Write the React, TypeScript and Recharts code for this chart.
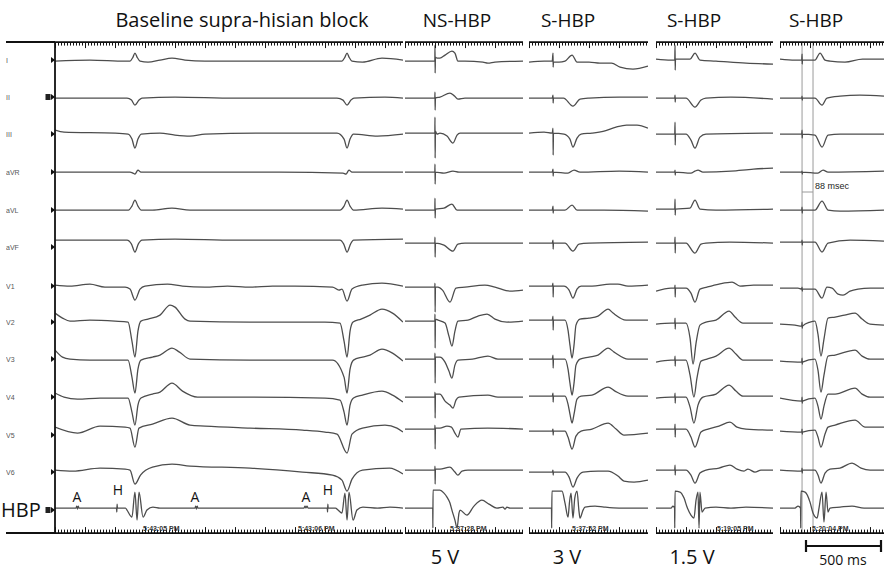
import React from "react";
import { LineChart, Line, XAxis, YAxis, ReferenceLine } from "recharts";

type Pt = [number, number];

// time in ms from panel start, amplitude in trace units (up = positive)
const LEADS = ["I", "II", "III", "aVR", "aVL", "aVF", "V1", "V2", "V3", "V4", "V5", "V6", "HBP"];
const TITLES = ["Baseline supra-hisian block", "NS-HBP", "S-HBP", "S-HBP", "S-HBP"];
const OUTPUTS = ["5 V", "3 V", "1.5 V"];
const CLOCKS = ["5:43:05 PM", "5:43:06 PM", "5:37:28 PM", "5:37:52 PM", "5:19:05 PM", "5:20:04 PM"];
const PANEL_MS = [2320, 787, 793, 780, 693];
const CURSORS_MS = [147, 220];
const CURSOR_LABEL = "88 msec";
const SCALE_LABEL = "500 ms";

// baseline supra-hisian block
const I_BASE: Pt[] = [[0,0],[233,1],[467,0],[500,0],[520,4],[533,8],[547,4],[567,0],[620,-1],[700,1],[780,3],[867,1],[1000,0],[1300,0],[1600,0],[1880,0],[1913,0],[1933,4],[1947,8],[1960,4],[1980,0],[2050,-1],[2180,3],[2320,1]];
const II_BASE: Pt[] = [[0,0],[300,0],[480,0],[510,-2],[533,-7],[560,-2],[580,0],[800,1],[1200,0],[1880,0],[1920,-2],[1947,-7],[1973,-2],[1993,0],[2200,1],[2320,0]];
const III_BASE: Pt[] = [[0,3],[60,1],[400,0],[487,-1],[513,-6],[533,-15],[553,-6],[575,-1],[700,0],[800,-2],[900,-3],[1000,-1],[1400,0],[1880,0],[1927,-6],[1947,-15],[1967,-6],[1990,-1],[2150,-3],[2320,-1]];
const AVR_BASE: Pt[] = [[0,0],[500,0],[520,-1],[533,-2],[553,2],[573,0],[1000,0],[1500,0],[1920,-1],[1940,-2],[1960,2],[1980,0],[2320,0]];
const AVL_BASE: Pt[] = [[0,0],[300,0],[490,0],[513,4],[533,10],[553,4],[575,0],[650,0],[780,2],[900,0],[1300,0],[1900,0],[1927,4],[1947,10],[1967,4],[1990,0],[2180,2],[2320,1]];
const AVF_BASE: Pt[] = [[0,3],[480,3],[510,-1],[533,-9],[555,-1],[580,3],[800,4],[1200,3],[1900,3],[1925,-1],[1947,-9],[1970,-1],[1990,3],[2320,4]];
const V1_BASE: Pt[] = [[0,2],[100,1],[233,3],[333,0],[467,0],[500,-2],[533,-13],[567,-2],[600,1],[750,3],[850,1],[1000,0],[1150,1],[1300,0],[1450,1],[1600,1],[1850,0],[1893,-3],[1913,-2],[1947,-14],[1980,-2],[2050,2],[2180,4],[2320,1]];
const V2_BASE: Pt[] = [[0,8],[50,3],[100,0],[233,1],[400,0],[487,-1],[513,-20],[533,-36],[553,-10],[573,0],[620,2],[700,6],[767,16],[800,14],[867,2],[900,0],[1300,-1],[1800,-1],[1900,-2],[1927,-20],[1947,-36],[1967,-10],[1987,-1],[2040,2],[2100,6],[2180,12],[2250,8],[2320,-1]];
const V3_BASE: Pt[] = [[0,9],[50,2],[100,0],[233,-1],[487,-1],[513,-18],[533,-34],[553,-10],[573,-1],[650,2],[700,4],[780,11],[830,7],[900,0],[1300,-1],[1850,-1],[1927,-18],[1947,-34],[1967,-10],[1990,-1],[2050,2],[2100,4],[2180,10],[2250,6],[2320,-2]];
const V4_BASE: Pt[] = [[0,4],[60,0],[150,-2],[300,-1],[487,-1],[513,-15],[533,-28],[553,-8],[573,-1],[650,3],[700,5],[780,14],[850,6],[950,0],[1300,0],[1800,-1],[1900,-3],[1927,-15],[1947,-28],[1967,-8],[1990,-1],[2050,2],[2180,6],[2250,2],[2320,-5]];
const V5_BASE: Pt[] = [[0,3],[150,-3],[300,4],[467,3],[500,2],[533,-17],[560,2],[650,6],[780,12],[900,5],[1000,4],[1300,2],[1650,0],[1800,-2],[1880,-4],[1947,-23],[1980,-4],[2050,2],[2200,5],[2280,2],[2320,-2]];
const V6_BASE: Pt[] = [[0,1],[120,0],[300,3],[467,2],[500,1],[533,-13],[570,-4],[650,4],[780,7],[900,5],[1300,3],[1650,-1],[1850,-4],[1913,-9],[1947,-20],[1980,-8],[2050,1],[2230,3],[2320,-3]];
const HBP_BASE: Pt[] = [[0,0],[100,0],[140,0],[145,2],[150,-1],[155,2],[160,0],[300,0],[410,0],[412,-4],[414,4],[416,0],[470,0],[480,-2],[513,-9],[533,16],[547,-12],[560,16],[587,-9],[613,-2],[653,1],[700,0],[933,0],[938,2],[943,-1],[948,2],[953,0],[1200,0],[1500,0],[1660,0],[1667,2],[1673,0],[1680,2],[1687,0],[1815,0],[1817,-4],[1819,4],[1821,0],[1870,0],[1887,-2],[1913,-5],[1933,15],[1947,-12],[1960,16],[1987,-12],[2013,-2],[2053,1],[2150,0],[2233,1],[2320,0]];

// NS-HBP 5 V
const I_NS: Pt[] = [[0,0],[190,0],[199,0],[200,16],[201,-12],[203,4],[213,3],[233,3],[267,6],[313,10],[333,8],[353,0],[400,0],[520,-1],[553,-2],[600,-1],[787,0]];
const II_NS: Pt[] = [[0,0],[199,0],[200,6],[201,-12],[203,0],[233,1],[300,5],[330,2],[353,-1],[400,0],[787,0]];
const III_NS: Pt[] = [[0,0],[199,0],[200,16],[201,-25],[203,2],[213,-1],[233,0],[280,-3],[320,-10],[347,-2],[367,0],[787,0]];
const AVR_NS: Pt[] = [[0,0],[199,0],[200,8],[201,-12],[203,0],[260,-1],[320,1],[360,0],[787,0]];
const AVL_NS: Pt[] = [[0,0],[199,0],[200,12],[201,-8],[203,1],[260,2],[313,6],[347,0],[400,0],[787,0]];
const AVF_NS: Pt[] = [[0,0],[199,0],[200,6],[201,-14],[203,0],[260,-2],[320,-8],[353,-1],[400,0],[787,0]];
const V1_NS: Pt[] = [[0,0],[199,0],[200,4],[201,-25],[203,0],[220,0],[250,-3],[300,-15],[340,-1],[400,0],[533,2],[600,0],[700,-4],[787,-3]];
const V2_NS: Pt[] = [[0,0],[199,0],[200,7],[201,-27],[203,2],[220,1],[267,-2],[293,-15],[313,-25],[333,-10],[353,0],[420,1],[487,5],[547,7],[600,2],[680,-1],[787,0]];
const V3_NS: Pt[] = [[0,0],[199,0],[200,6],[201,-24],[203,2],[233,2],[267,-3],[293,-12],[313,-19],[333,-6],[353,-1],[450,0],[553,3],[620,0],[787,0]];
const V4_NS: Pt[] = [[0,0],[199,0],[200,5],[201,-21],[203,3],[233,3],[267,-4],[300,-8],[320,-11],[340,-3],[360,0],[553,2],[620,0],[787,0]];
const V5_NS: Pt[] = [[0,1],[199,1],[200,5],[201,-19],[203,2],[233,2],[280,4],[310,3],[333,-3],[353,-7],[373,1],[553,2],[787,1]];
const V6_NS: Pt[] = [[0,1],[199,1],[200,5],[201,-13],[203,2],[233,2],[300,4],[333,-1],[353,-4],[380,0],[420,1],[600,1],[787,1]];
const HBP_NS: Pt[] = [[0,0],[185,0],[186,-20],[187,18],[233,18],[260,15],[280,11],[300,5],[313,-2],[333,-12],[347,-20],[360,-5],[367,-2],[413,-7],[460,2],[513,8],[560,4],[613,0],[653,1],[667,-1],[680,1],[700,0],[787,0]];

// S-HBP 3 V
const I_S3: Pt[] = [[0,-1],[100,0],[155,0],[160,8],[161,-6],[163,-1],[200,-1],[240,0],[287,6],[320,-1],[400,-1],[473,-2],[550,-2],[607,-6],[693,-8],[793,-5]];
const II_S3: Pt[] = [[0,0],[155,0],[160,3],[161,-5],[163,0],[230,0],[293,-8],[340,-1],[400,0],[600,1],[793,1]];
const III_S3: Pt[] = [[0,0],[100,1],[155,0],[160,5],[161,-22],[163,0],[233,-1],[273,-6],[293,-14],[320,-5],[347,-1],[420,0],[500,2],[580,6],[650,8],[720,8],[793,5]];
const AVR_S3: Pt[] = [[0,0],[155,0],[160,3],[161,-4],[163,0],[260,-1],[300,2],[340,0],[600,1],[793,0]];
const AVL_S3: Pt[] = [[0,0],[155,0],[160,4],[161,-3],[163,0],[240,0],[287,5],[320,0],[500,0],[793,-1]];
const AVF_S3: Pt[] = [[0,0],[155,0],[160,3],[161,-6],[163,0],[240,0],[293,-8],[333,-1],[400,0],[793,1]];
const V1_S3: Pt[] = [[0,1],[155,1],[160,4],[161,-10],[163,1],[233,1],[267,-3],[293,-11],[320,-2],[347,1],[420,1],[540,3],[593,3],[660,1],[793,2]];
const V2_S3: Pt[] = [[0,1],[155,1],[160,5],[161,-9],[163,1],[240,1],[260,-9],[273,-24],[287,-37],[300,-24],[313,-4],[340,2],[400,3],[460,5],[527,12],[560,8],[647,1],[793,1]];
const V3_S3: Pt[] = [[0,0],[155,0],[160,4],[161,-9],[163,0],[240,0],[260,-10],[273,-24],[287,-36],[300,-24],[313,-6],[340,0],[400,2],[460,4],[527,11],[567,7],[660,0],[793,0]];
const V4_S3: Pt[] = [[0,1],[155,1],[160,4],[161,-5],[163,1],[240,1],[260,-7],[273,-17],[287,-26],[300,-17],[320,-2],[347,1],[420,2],[527,10],[573,6],[660,1],[793,1]];
const V5_S3: Pt[] = [[0,-1],[155,-1],[160,1],[161,-5],[163,-1],[240,-1],[260,-7],[287,-19],[313,-6],[347,-1],[420,1],[527,7],[580,1],[633,-5],[793,-3]];
const V6_S3: Pt[] = [[0,-1],[155,-1],[160,1],[161,-4],[163,-1],[240,-1],[267,-6],[293,-16],[320,-7],[360,-1],[460,0],[527,0],[593,-5],[633,-10],[700,-11],[793,-9]];
const HBP_S3: Pt[] = [[0,0],[150,0],[151,-20],[153,17],[220,17],[240,5],[260,-9],[270,6],[280,15],[293,-10],[305,10],[320,17],[333,-3],[340,-10],[360,-2],[373,1],[440,2],[500,1],[600,0],[793,0]];

// S-HBP 1.5 V
const I_S15: Pt[] = [[0,2],[100,1],[125,1],[127,16],[128,-9],[130,2],[160,2],[227,2],[260,8],[293,1],[400,0],[600,-2],[780,-3]];
const II_S15: Pt[] = [[0,0],[125,0],[127,3],[128,-4],[130,0],[200,0],[260,-9],[300,-2],[333,0],[500,1],[780,-1]];
const III_S15: Pt[] = [[0,-1],[125,-1],[127,11],[128,-12],[130,-1],[200,-1],[233,-7],[260,-15],[293,-4],[333,-1],[780,0]];
const AVR_S15: Pt[] = [[0,0],[125,0],[127,2],[128,-3],[130,0],[233,-1],[260,1],[280,2],[313,0],[500,1],[650,3],[780,4]];
const AVL_S15: Pt[] = [[0,1],[125,1],[127,11],[128,-5],[130,1],[227,2],[260,10],[293,1],[400,0],[780,1]];
const AVF_S15: Pt[] = [[0,0],[125,0],[127,6],[128,-10],[130,0],[200,0],[260,-10],[300,-1],[333,0],[493,1],[780,0]];
const V1_S15: Pt[] = [[0,-4],[100,-1],[125,-1],[127,2],[128,-10],[130,-1],[200,-1],[233,-6],[260,-15],[293,-2],[340,0],[420,3],[507,5],[560,1],[650,2],[780,2]];
const V2_S15: Pt[] = [[0,-3],[100,-2],[125,-2],[127,3],[128,-8],[130,-2],[200,-2],[227,-17],[247,-43],[267,-22],[293,-4],[333,-1],[400,1],[487,10],[527,4],[580,-2],[780,-2]];
const V3_S15: Pt[] = [[0,-3],[100,-1],[125,-1],[127,3],[128,-7],[130,-1],[200,-1],[227,-16],[253,-38],[273,-19],[300,-2],[340,0],[400,3],[487,11],[533,5],[580,-1],[780,-1]];
const V4_S15: Pt[] = [[0,-1],[100,0],[125,0],[127,4],[128,-6],[130,0],[200,0],[227,-10],[253,-26],[280,-8],[313,0],[400,3],[487,12],[533,6],[580,1],[780,1]];
const V5_S15: Pt[] = [[0,1],[100,1],[125,1],[127,6],[128,-7],[130,1],[200,1],[233,-7],[260,-17],[300,-2],[347,1],[420,4],[493,8],[540,3],[600,1],[780,0]];
const V6_S15: Pt[] = [[0,1],[125,1],[127,6],[128,-4],[130,1],[200,1],[233,-4],[260,-12],[293,-2],[333,1],[420,3],[493,6],[540,2],[587,0],[613,2],[660,-1],[700,1],[780,1]];
const HBP_S15: Pt[] = [[0,0],[100,0],[113,2],[124,0],[125,-20],[127,17],[160,16],[187,10],[207,1],[233,-7],[253,-10],[267,8],[280,16],[287,-20],[293,16],[307,-4],[327,0],[400,1],[500,0],[600,1],[780,0]];

// S-HBP, second 1.5 V strip with cursors
const I_S15B: Pt[] = [[0,2],[100,1],[145,1],[147,7],[148,-3],[150,1],[233,1],[267,8],[300,1],[333,0],[433,-1],[550,2],[693,2]];
const II_S15B: Pt[] = [[0,0],[145,0],[147,2],[148,-2],[150,0],[233,0],[280,-7],[313,0],[400,2],[533,3],[693,2]];
const III_S15B: Pt[] = [[0,-1],[145,-1],[147,3],[148,-5],[150,-1],[233,-2],[280,-14],[320,-2],[400,-1],[693,-1]];
const AVR_S15B: Pt[] = [[0,0],[145,0],[147,1],[148,-2],[150,0],[253,-1],[287,2],[320,0],[693,1]];
const AVL_S15B: Pt[] = [[0,0],[145,0],[147,3],[148,-3],[150,0],[233,0],[280,9],[320,0],[400,-1],[693,0]];
const AVF_S15B: Pt[] = [[0,1],[145,1],[147,3],[148,-2],[150,1],[233,1],[280,-9],[320,0],[467,3],[693,2]];
const V1_S15B: Pt[] = [[0,-1],[120,-1],[145,-2],[147,0],[148,-4],[150,-2],[233,-2],[280,-11],[313,0],[347,-1],[387,-7],[420,-8],[467,-4],[520,-2],[600,-1],[693,-1]];
const V2_S15B: Pt[] = [[0,-3],[100,-4],[145,-5],[147,-1],[148,-7],[150,-5],[200,-1],[233,0],[253,-13],[273,-35],[293,-18],[320,3],[367,4],[430,6],[500,8],[547,2],[600,-3],[693,-4]];
const V3_S15B: Pt[] = [[0,-2],[145,-3],[147,1],[148,-5],[150,-3],[233,0],[253,-11],[273,-33],[293,-16],[320,3],[367,4],[500,9],[547,3],[600,0],[693,0]];
const V4_S15B: Pt[] = [[0,-1],[145,-4],[147,0],[148,-6],[150,-4],[233,-1],[253,-9],[273,-22],[293,-9],[320,3],[367,3],[500,9],[547,3],[600,0],[693,0]];
const V5_S15B: Pt[] = [[0,-1],[145,-2],[147,1],[148,-4],[150,-2],[233,0],[253,-7],[273,-17],[300,-4],[320,3],[367,5],[500,10],[567,3],[693,3]];
const V6_S15B: Pt[] = [[0,1],[145,0],[147,3],[148,-2],[150,1],[233,1],[253,-4],[273,-12],[300,-2],[333,2],[400,3],[480,8],[540,3],[600,1],[693,1]];
const HBP_S15B: Pt[] = [[0,0],[100,0],[120,2],[137,0],[138,-20],[140,17],[167,16],[200,6],[220,-5],[247,-10],[260,0],[280,16],[293,-14],[307,16],[320,-4],[333,0],[400,1],[480,2],[560,0],[693,0]];

const TRACES: Pt[][][] = [
  [I_BASE, II_BASE, III_BASE, AVR_BASE, AVL_BASE, AVF_BASE, V1_BASE, V2_BASE, V3_BASE, V4_BASE, V5_BASE, V6_BASE, HBP_BASE],
  [I_NS, II_NS, III_NS, AVR_NS, AVL_NS, AVF_NS, V1_NS, V2_NS, V3_NS, V4_NS, V5_NS, V6_NS, HBP_NS],
  [I_S3, II_S3, III_S3, AVR_S3, AVL_S3, AVF_S3, V1_S3, V2_S3, V3_S3, V4_S3, V5_S3, V6_S3, HBP_S3],
  [I_S15, II_S15, III_S15, AVR_S15, AVL_S15, AVF_S15, V1_S15, V2_S15, V3_S15, V4_S15, V5_S15, V6_S15, HBP_S15],
  [I_S15B, II_S15B, III_S15B, AVR_S15B, AVL_S15B, AVF_S15B, V1_S15B, V2_S15B, V3_S15B, V4_S15B, V5_S15B, V6_S15B, HBP_S15B],
];

// layout (page pixels)
const TOP = 42;
const BOTTOM = 533;
const PANEL_X = [55, 405, 529, 656, 780];
const PANEL_W = [348, 118, 119, 117, 104];
const ROW_Y = [61, 98, 133, 172, 210, 243, 287, 321, 359, 397, 430, 471, 508];
const LABEL_Y = [60, 97, 134, 172, 210, 247, 286, 322, 359, 397, 435, 472, 510];
const TITLE_X = [242, 457, 568, 694, 816];
const OUTPUT_X = [445, 567, 692];
const CLOCK_X = [143, 298, 450, 572, 717, 812];
const PHASES = [0, 20, 40, 60, 80, 100, 120, 140, 160, 180]; // ruler ticks every 20 ms, long one every 200 ms

const FONT = "'Open Sans', 'Noto Sans', sans-serif";
const SMALL = "'Liberation Sans', Arial, sans-serif";
const INK = "#4d4d4d";
const AXH = 2;
const THIN = 0.01;

function Strip({ idx }: { idx: number }) {
  const ms = PANEL_MS[idx];
  const w = PANEL_W[idx];
  const h = BOTTOM - TOP + 2 * AXH + 2 * THIN * (PHASES.length - 1);
  const y0 = AXH + THIN * (PHASES.length - 1);
  const y1 = h - y0;
  const tickFor = (side: "top" | "bottom", len: number) => (p: any) => {
    const x = Math.round(p.x) + 0.5;
    return side === "top"
      ? <line x1={x} x2={x} y1={y0} y2={y0 + len} stroke="#111" strokeWidth={1} />
      : <line x1={x} x2={x} y1={y1} y2={y1 - len} stroke="#111" strokeWidth={1} />;
  };
  const axes: React.ReactNode[] = [];
  (["top", "bottom"] as const).forEach((side) => {
    PHASES.forEach((ph, k) => {
      const ticks: number[] = [];
      for (let t = ph; t <= ms; t += 200) ticks.push(t);
      axes.push(
        <XAxis key={`${side}${k}`} xAxisId={`${side}${k}`} orientation={side} type="number" dataKey="t"
          domain={[0, ms]} ticks={ticks} interval={0} minTickGap={0} height={k === 0 ? AXH : THIN}
          allowDataOverflow tickLine={false} tick={tickFor(side, k === 0 ? 6 : 3.5)}
          axisLine={k === 0 ? { stroke: "#111", strokeWidth: 1.8 } : false} />
      );
    });
  });
  return (
    <div style={{ position: "absolute", left: PANEL_X[idx], top: TOP - y0 }}>
      <LineChart width={w} height={h} margin={{ top: 0, right: 0, bottom: 0, left: 0 }}>
        {axes}
        {LEADS.map((lead, i) => (
          <YAxis key={lead} yAxisId={lead} hide type="number" allowDataOverflow
            domain={[ROW_Y[i] - BOTTOM, ROW_Y[i] - TOP]} />
        ))}
        {idx === 4 &&
          CURSORS_MS.map((c) => (
            <ReferenceLine key={c} x={c} xAxisId="top0" yAxisId="I" stroke="#9a9a9a" strokeWidth={1} />
          ))}
        {LEADS.map((lead, i) => (
          <Line key={lead} xAxisId="top0" yAxisId={lead} type="monotone"
            data={TRACES[idx][i].map(([t, a]) => ({ t, a }))} dataKey="a"
            stroke={INK} strokeWidth={1.3} dot={false} activeDot={false} isAnimationActive={false} />
        ))}
      </LineChart>
    </div>
  );
}

export default function App() {
  return (
    <div style={{ position: "absolute", left: 0, top: 0, width: 884, height: 570, background: "#fff", overflow: "hidden" }}>
      {PANEL_MS.map((_, i) => <Strip key={i} idx={i} />)}
      <svg width={884} height={570} style={{ position: "absolute", left: 0, top: 0, pointerEvents: "none" }}>
        {TITLES.map((t, i) => (
          <text key={i} x={TITLE_X[i]} y={27} textAnchor="middle" fontFamily={FONT} fontSize={i === 0 ? 20 : 19} fill="#111">{t}</text>
        ))}
        <line x1={6} x2={55} y1={TOP} y2={TOP} stroke="#111" strokeWidth={1.8} />
        <line x1={6} x2={55} y1={BOTTOM} y2={BOTTOM} stroke="#111" strokeWidth={1.8} />
        <line x1={55} x2={55} y1={TOP} y2={BOTTOM} stroke="#111" strokeWidth={1.8} />
        <g opacity={0.99}>
          {LEADS.slice(0, 12).map((l, i) => (
            <text key={l} x={6} y={LABEL_Y[i] + 2.5} fontFamily={SMALL} fontSize={7} fill="#555">{l}</text>
          ))}
          {CLOCKS.map((c, i) => (
            <text key={i} x={CLOCK_X[i]} y={531} fontFamily={SMALL} fontSize={7} fontWeight="bold" fill="#333">{c}</text>
          ))}
          <text x={815} y={189} fontFamily={SMALL} fontSize={9} fill="#222">{CURSOR_LABEL}</text>
        </g>
        {LABEL_Y.map((y, i) => (
          <path key={i} d={`M51,${y - 3} L55,${y} L51,${y + 3} Z`} fill="#111" />
        ))}
        <rect x={45.5} y={LABEL_Y[1] - 3} width={5} height={6} fill="#222" />
        <rect x={45.5} y={LABEL_Y[12] - 3} width={5} height={6} fill="#222" />
        <text x={1} y={517} fontFamily={FONT} fontSize={20} fill="#111">HBP</text>
        <g opacity={0.99}>
          <text x={77} y={502} textAnchor="middle" fontFamily={FONT} fontSize={14} fill="#111">A</text>
          <text x={118} y={495} textAnchor="middle" fontFamily={FONT} fontSize={14} fill="#111">H</text>
          <text x={195} y={502} textAnchor="middle" fontFamily={FONT} fontSize={14} fill="#111">A</text>
          <text x={306} y={502} textAnchor="middle" fontFamily={FONT} fontSize={14} fill="#111">A</text>
          <text x={328} y={495} textAnchor="middle" fontFamily={FONT} fontSize={14} fill="#111">H</text>
        </g>
        {OUTPUTS.map((o, i) => (
          <text key={i} x={OUTPUT_X[i]} y={564} textAnchor="middle" fontFamily={FONT} fontSize={20} fill="#111">{o}</text>
        ))}
        <line x1={802} x2={813} y1={192} y2={192} stroke="#9a9a9a" strokeWidth={1} />
        <line x1={806} x2={881} y1={546} y2={546} stroke="#111" strokeWidth={2.2} />
        <line x1={806} x2={806} y1={540} y2={552} stroke="#111" strokeWidth={2.2} />
        <line x1={881} x2={881} y1={540} y2={552} stroke="#111" strokeWidth={2.2} />
        <text x={843} y={565} textAnchor="middle" fontFamily={FONT} fontSize={14} fill="#111">{SCALE_LABEL}</text>
      </svg>
    </div>
  );
}
